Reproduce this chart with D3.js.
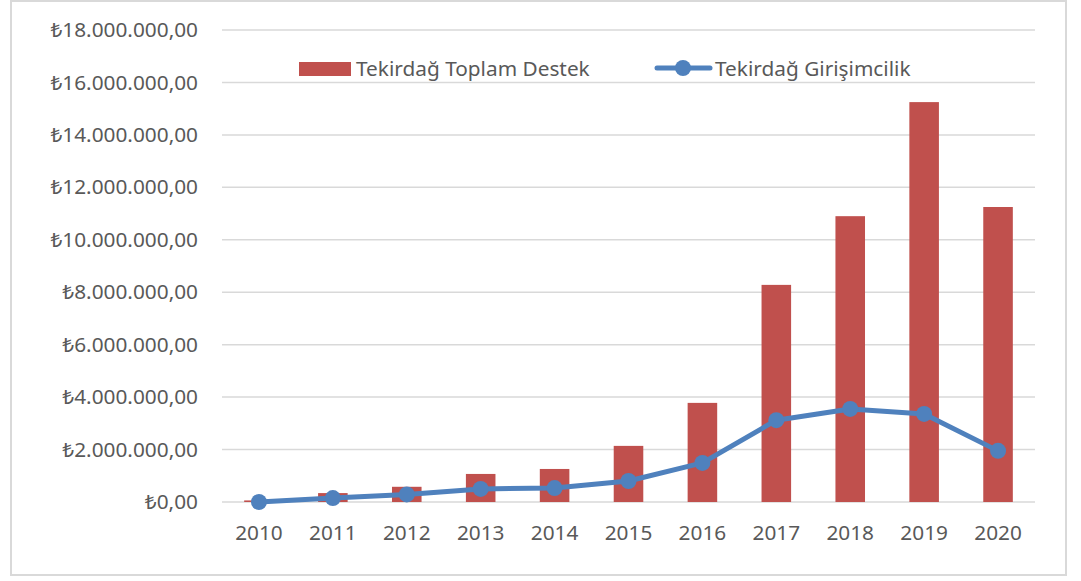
<!DOCTYPE html>
<html>
<head>
<meta charset="utf-8">
<script src="https://cdn.jsdelivr.net/npm/d3@7"></script>
<style>
  body { margin: 0; background: #fff; }
  text { font-family: "Noto Sans", "DejaVu Sans", sans-serif; fill: #595959; }
</style>
</head>
<body>
<svg id="chart" width="1081" height="581"></svg>
<script>
// values (TL)
const years = ["2010","2011","2012","2013","2014","2015","2016","2017","2018","2019","2020"];
const toplamDestek = [60000, 340000, 580000, 1070000, 1260000, 2140000, 3780000, 8280000, 10900000, 15250000, 11250000];
const girisimcilik = [0, 150000, 290000, 500000, 530000, 800000, 1490000, 3120000, 3550000, 3360000, 1950000];
const yTicks = d3.range(0, 18000001, 2000000);
const seriesNames = ["Tekirdağ Toplam Destek", "Tekirdağ Girişimcilik"];

const svg = d3.select("#chart");
const margin = { left: 222, right: 1081 - 1035, top: 30, bottom: 581 - 502 };
const W = 1081, H = 581;
const fs = 20.8;

// outer border
svg.append("rect")
    .attr("x", 11).attr("y", 1)
    .attr("width", 1055).attr("height", 574)
    .attr("fill", "#fff")
    .attr("stroke", "#d9d9d9")
    .attr("stroke-width", 2);

const x = d3.scaleBand()
    .domain(years)
    .range([margin.left, W - margin.right])
    .paddingInner(0.6)
    .paddingOuter(0.3);

const y = d3.scaleLinear()
    .domain([0, 18000000])
    .range([H - margin.bottom, margin.top]);

const fmt = v => "₺" + d3.format(",.2f")(v).replace(/,/g, "#").replace(/\./g, ",").replace(/#/g, ".");

// gridlines
svg.append("g")
    .selectAll("line")
    .data(yTicks)
    .join("line")
    .attr("x1", margin.left)
    .attr("x2", W - margin.right)
    .attr("y1", d => y(d))
    .attr("y2", d => y(d))
    .attr("stroke", "#d9d9d9")
    .attr("stroke-width", 1.5);

// y axis labels
const yAxis = d3.axisLeft(y).tickValues(yTicks).tickFormat(fmt).tickSize(0).tickPadding(24);
svg.append("g")
    .attr("transform", `translate(${margin.left},0)`)
    .call(yAxis)
    .call(g => g.select(".domain").remove())
    .call(g => g.selectAll("text")
        .attr("font-size", fs)
        .attr("font-family", null)
        .attr("fill", "#595959"));

// x axis labels
const xAxis = d3.axisBottom(x).tickSize(0).tickPadding(23);
svg.append("g")
    .attr("transform", `translate(0,${y(0)})`)
    .call(xAxis)
    .call(g => g.select(".domain").remove())
    .call(g => g.selectAll("text")
        .attr("font-size", fs)
        .attr("font-family", null)
        .attr("fill", "#595959"));

// bars
svg.append("g")
    .selectAll("rect")
    .data(toplamDestek)
    .join("rect")
    .attr("x", (d, i) => x(years[i]))
    .attr("width", x.bandwidth())
    .attr("y", d => y(d))
    .attr("height", d => y(0) - y(d))
    .attr("fill", "#c0504d");

// line
const cx = i => x(years[i]) + x.bandwidth() / 2;
const line = d3.line().x((d, i) => cx(i)).y(d => y(d));
svg.append("path")
    .datum(girisimcilik)
    .attr("d", line)
    .attr("fill", "none")
    .attr("stroke", "#4f81bd")
    .attr("stroke-width", 5)
    .attr("stroke-linejoin", "round");

svg.append("g")
    .selectAll("circle")
    .data(girisimcilik)
    .join("circle")
    .attr("cx", (d, i) => cx(i))
    .attr("cy", d => y(d))
    .attr("r", 8)
    .attr("fill", "#4f81bd");

// legend
const lg = svg.append("g");
lg.append("rect")
    .attr("x", 299).attr("y", 62)
    .attr("width", 52).attr("height", 14)
    .attr("fill", "#c0504d");
lg.append("text")
    .attr("x", 356).attr("y", 76)
    .attr("font-size", fs)
    .text(seriesNames[0]);
lg.append("line")
    .attr("x1", 657).attr("x2", 710)
    .attr("y1", 68).attr("y2", 68)
    .attr("stroke", "#4f81bd")
    .attr("stroke-width", 5)
    .attr("stroke-linecap", "round");
lg.append("circle")
    .attr("cx", 683).attr("cy", 68).attr("r", 8)
    .attr("fill", "#4f81bd");
lg.append("text")
    .attr("x", 715).attr("y", 76)
    .attr("font-size", fs)
    .text(seriesNames[1]);
</script>
</body>
</html>
